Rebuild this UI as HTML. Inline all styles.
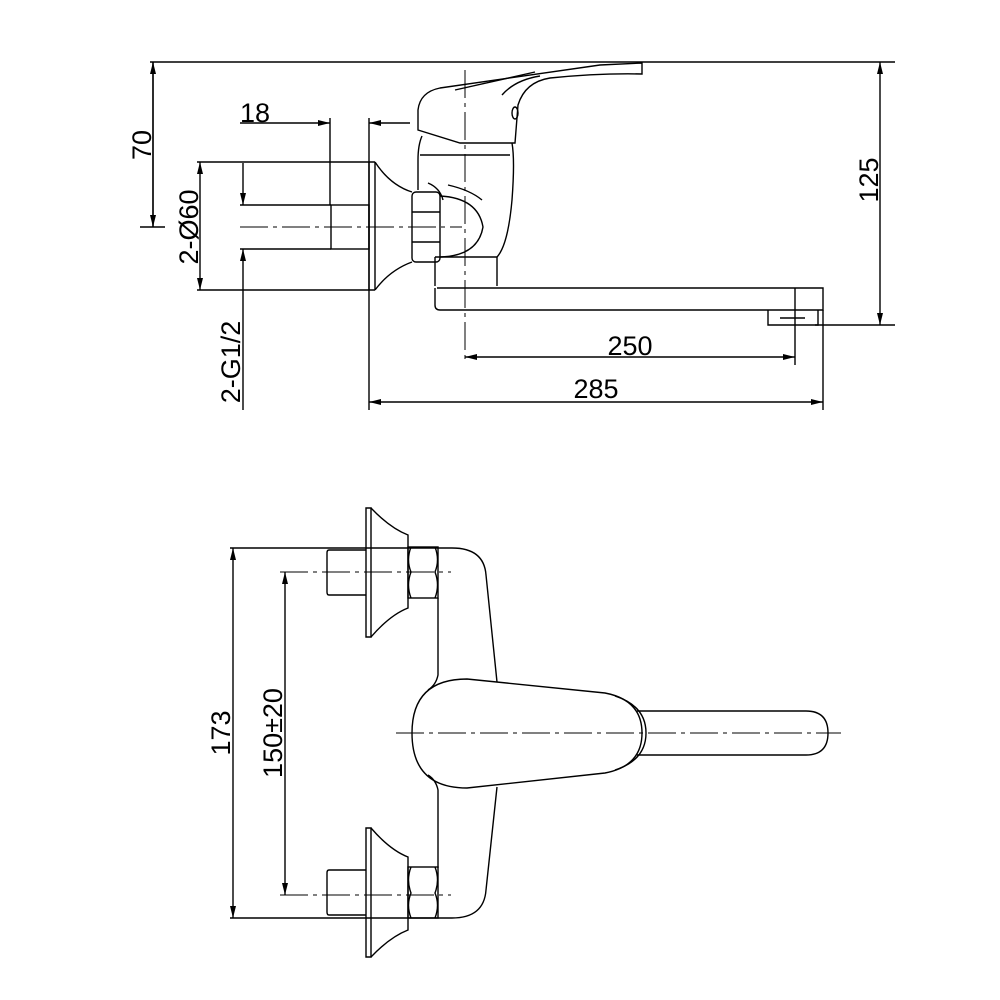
<!DOCTYPE html>
<html><head><style>html,body{margin:0;padding:0;background:#fff}svg{display:block}</style></head><body>
<svg width="1000" height="1000" viewBox="0 0 1000 1000" xmlns="http://www.w3.org/2000/svg" font-family="Liberation Sans, sans-serif" font-size="27">
<defs>
<marker id="a" viewBox="0 0 12 6" refX="12" refY="3" markerWidth="12" markerHeight="6" markerUnits="userSpaceOnUse" orient="auto"><path d="M0,0L12,3L0,6z" fill="#000"/></marker>
</defs>
<g fill="none" stroke="#000" stroke-width="1.4">
<!-- TOP VIEW -->
<line x1="150" y1="62" x2="895" y2="62"/>
<path d="M418,130 L418,110 Q420,92 440,88 L600,65 L642,63 L642,74 Q600,73 550,78 Q525,82 518,105 L515,143 L460,143 Z"/>
<path d="M455,90 L535,72 M502,95 Q515,80 540,76"/>
<ellipse cx="515" cy="113" rx="3" ry="6"/>
<path d="M422,136 Q418,145 418,160 L418,190 M420,155 L510,155 M512,143 Q515,160 512,200 Q508,245 497,257 L435,257"/>
<path d="M435,257 L435,286 M497,257 L497,286"/>
<path d="M440,196 Q478,198 483,227 Q478,256 440,257"/>
<path d="M428,183 Q440,188 443,200 M448,185 Q470,190 482,200"/>
<rect x="412" y="192" width="28" height="70" rx="4"/>
<path d="M412,212 L440,212 M412,242 L440,242"/>
<path d="M369,162 L369,290 M375,162 L375,290 M375,162 Q390,185 412,192 M375,290 Q390,270 412,262 M369,162 L375,162 M369,290 L375,290"/>
<rect x="331" y="205" width="38" height="44"/>
<path d="M437,288 L823,288 L823,310 L440,310 Q435,310 435,305 L435,288"/>
<path d="M795,288 L795,310 M768,310 L768,325 L818,325 L818,310 M780,318 L805,318"/>
<path d="M197,162 L369,162 M197,290 L369,290 M240,205 L331,205 M240,249 L331,249 M330,118 L330,205 M369,118 L369,410 M815,325 L895,325 M795,310 L795,365 M823,310 L823,410"/>
<path d="M465,70 L465,360" stroke-dasharray="28,5,4,5" stroke-width="1"/>
<path d="M240,227 L462,227" stroke-dasharray="28,5,4,5" stroke-width="1"/>
<line x1="153" y1="227" x2="153" y2="62" marker-end="url(#a)"/>
<line x1="153" y1="62" x2="153" y2="227" marker-end="url(#a)"/>
<line x1="140" y1="227" x2="165" y2="227"/>
<line x1="200" y1="227" x2="200" y2="162" marker-end="url(#a)"/>
<line x1="200" y1="227" x2="200" y2="290" marker-end="url(#a)"/>
<line x1="243" y1="163" x2="243" y2="205" marker-end="url(#a)"/>
<line x1="243" y1="410" x2="243" y2="249" marker-end="url(#a)"/>
<line x1="240" y1="123" x2="330" y2="123" marker-end="url(#a)"/>
<line x1="410" y1="123" x2="369" y2="123" marker-end="url(#a)"/>
<line x1="880" y1="190" x2="880" y2="62" marker-end="url(#a)"/>
<line x1="880" y1="190" x2="880" y2="325" marker-end="url(#a)"/>
<line x1="630" y1="357" x2="465" y2="357" marker-end="url(#a)"/>
<line x1="630" y1="357" x2="795" y2="357" marker-end="url(#a)"/>
<line x1="600" y1="402" x2="369" y2="402" marker-end="url(#a)"/>
<line x1="600" y1="402" x2="823" y2="402" marker-end="url(#a)"/>

<!-- BOTTOM VIEW -->
<g id="v">
<path d="M366,508 L371,508 L371,637 L366,637 Z"/>
<path d="M371,508 Q390,528 408,535 L408,608 Q390,615 371,637"/>
<rect x="408" y="547" width="30" height="51"/>
<path d="M411,547 Q406,560 411,572 Q406,585 411,598 M435,547 Q440,560 435,572 Q440,585 435,598"/>
<path d="M366,550 L329,550 Q327,550 327,553 L327,592 Q327,595 329,595 L366,595"/>
</g>
<use href="#v" transform="translate(0,1465) scale(1,-1)"/>
<path d="M230,548 L452,548 Q484,548 486,575 L497,682"/>
<path d="M230,918 L452,918 Q484,918 486,890 L497,787"/>
<path d="M438,598 L438,675 Q436,685 428,690 M438,868 L438,790 Q436,780 428,775"/>
<path d="M467,679 L605,693 Q642,700 642,733 Q642,766 605,773 L467,788 Q412,788 412,733 Q412,679 467,679 Z"/>
<path d="M615,696 Q646,706 646,733 Q646,760 615,770"/>
<path d="M637,711 L806,711 Q828,711 828,733 Q828,755 806,755 L637,755"/>
<path d="M396,733 L841,733" stroke-dasharray="28,5,4,5" stroke-width="1"/>
<path d="M280,572 L451,572" stroke-dasharray="28,5,4,5" stroke-width="1"/>
<path d="M280,895 L451,895" stroke-dasharray="28,5,4,5" stroke-width="1"/>
<line x1="233" y1="733" x2="233" y2="548" marker-end="url(#a)"/>
<line x1="233" y1="733" x2="233" y2="918" marker-end="url(#a)"/>
<line x1="285" y1="733" x2="285" y2="572" marker-end="url(#a)"/>
<line x1="285" y1="733" x2="285" y2="895" marker-end="url(#a)"/>
</g>
<g fill="#000" text-anchor="middle">
<text x="255" y="122">18</text>
<text x="630" y="355">250</text>
<text x="596" y="398">285</text>
<text transform="translate(151,145) rotate(-90)">70</text>
<text transform="translate(198,227) rotate(-90)">2-Ø60</text>
<text transform="translate(240,362) rotate(-90)">2-G1/2</text>
<text transform="translate(878,180) rotate(-90)">125</text>
<text transform="translate(230,733) rotate(-90)">173</text>
<text transform="translate(282,733) rotate(-90)">150±20</text>
</g>
</svg>
</body></html>
